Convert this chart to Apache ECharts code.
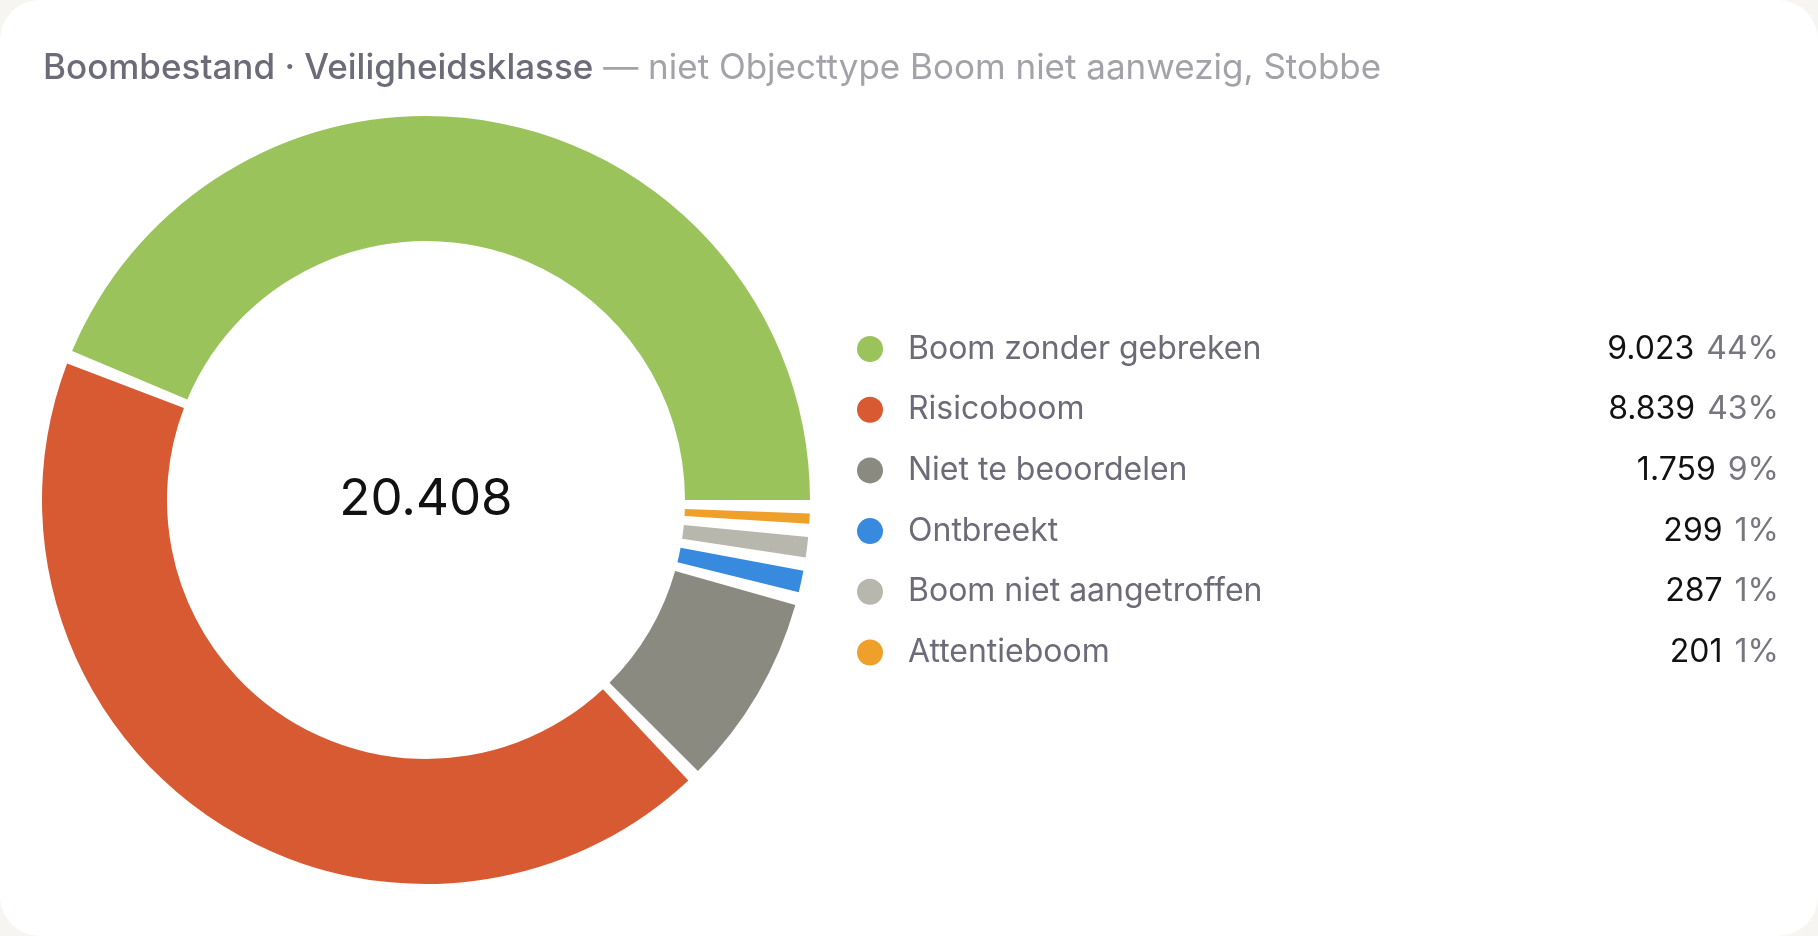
<!DOCTYPE html>
<html>
<head>
<meta charset="utf-8">
<script src="https://cdn.jsdelivr.net/npm/echarts@6/dist/echarts.min.js"></script>
<style>
    html, body { margin: 0; padding: 0; width: 100%; height: 100%; background: #f6f5f1; overflow: hidden; }
    #chart { position: absolute; left: 0; top: 0; width: 1818px; height: 936px; background: #fff; border-radius: 40px; }
</style>
</head>
<body>
<div id="chart"></div>
<script>
// veiligheidsklassen, in volgorde van de legenda
var categories = ['Boom zonder gebreken', 'Risicoboom', 'Niet te beoordelen', 'Ontbreekt', 'Boom niet aangetroffen', 'Attentieboom'];
var values = [9023, 8839, 1759, 299, 287, 201];
var colors = ['#9ac45b', '#d75a32', '#8a8a81', '#378add', '#b8b7ae', '#efa02a'];

var titleMain = 'Boombestand · Veiligheidsklasse';
var titleSub = ' — niet Objecttype Boom niet aanwezig, Stobbe';

var FONT = 'Inter, "Liberation Sans", sans-serif';

function fmt(n) {
    return String(n).replace(/\B(?=(\d{3})+(?!\d))/g, '.');
}

var total = 0;
for (var i = 0; i < values.length; i++) {
    total += values[i];
}

var pieData = [];
for (var i = 0; i < categories.length; i++) {
    pieData.push({
        name: categories[i],
        value: values[i],
        itemStyle: { color: colors[i] }
    });
}

var myChart = echarts.init(document.getElementById('chart'), null, { width: 1818, height: 936 });
var option = {
    animation: false,
    title: {
        left: 38,
        top: 43,
        text: '{a|' + titleMain + '}{b|' + titleSub + '}',
        textStyle: {
            rich: {
                a: { fontFamily: FONT, fontSize: 35, fontWeight: 500, color: '#6c6b78', lineHeight: 40 },
                b: { fontFamily: FONT, fontSize: 35, fontWeight: 400, color: '#a3a2a9', lineHeight: 40 }
            }
        }
    },
    legend: {
        orient: 'vertical',
        left: 852,
        top: 328,
        icon: 'circle',
        itemWidth: 66,
        itemHeight: 26,
        itemGap: 28.7,
        selectedMode: false,
        data: categories,
        formatter: function (name) {
            var idx = categories.indexOf(name);
            var pct = Math.round(values[idx] / total * 100);
            return '{n|' + name + '}{v|' + fmt(values[idx]) + '}{s| }{p|' + pct + '%}';
        },
        textStyle: {
            width: 871,
            fontFamily: FONT,
            fontSize: 32,
            rich: {
                n: { fontFamily: FONT, fontSize: 32, color: '#6c6b78', lineHeight: 26 },
                v: { fontFamily: FONT, fontSize: 32, color: '#111111', align: 'right', lineHeight: 26 },
                s: { fontFamily: FONT, fontSize: 32, width: 12, align: 'right', lineHeight: 26 },
                p: { fontFamily: FONT, fontSize: 32, color: '#77767e', align: 'right', lineHeight: 26 }
            }
        }
    },
    graphic: [
        {
            type: 'text',
            x: 426,
            y: 500,
            style: {
                text: fmt(total),
                fontFamily: FONT,
                fontSize: 51,
                fill: '#111111',
                align: 'center',
                verticalAlign: 'middle'
            }
        }
    ],
    series: [
        {
            type: 'pie',
            center: [426, 500],
            radius: [259, 384],
            startAngle: -1,
            clockwise: false,
            padAngle: 2,
            label: { show: false },
            labelLine: { show: false },
            emphasis: { disabled: true },
            data: pieData
        }
    ]
};
myChart.setOption(option);
</script>
</body>
</html>
